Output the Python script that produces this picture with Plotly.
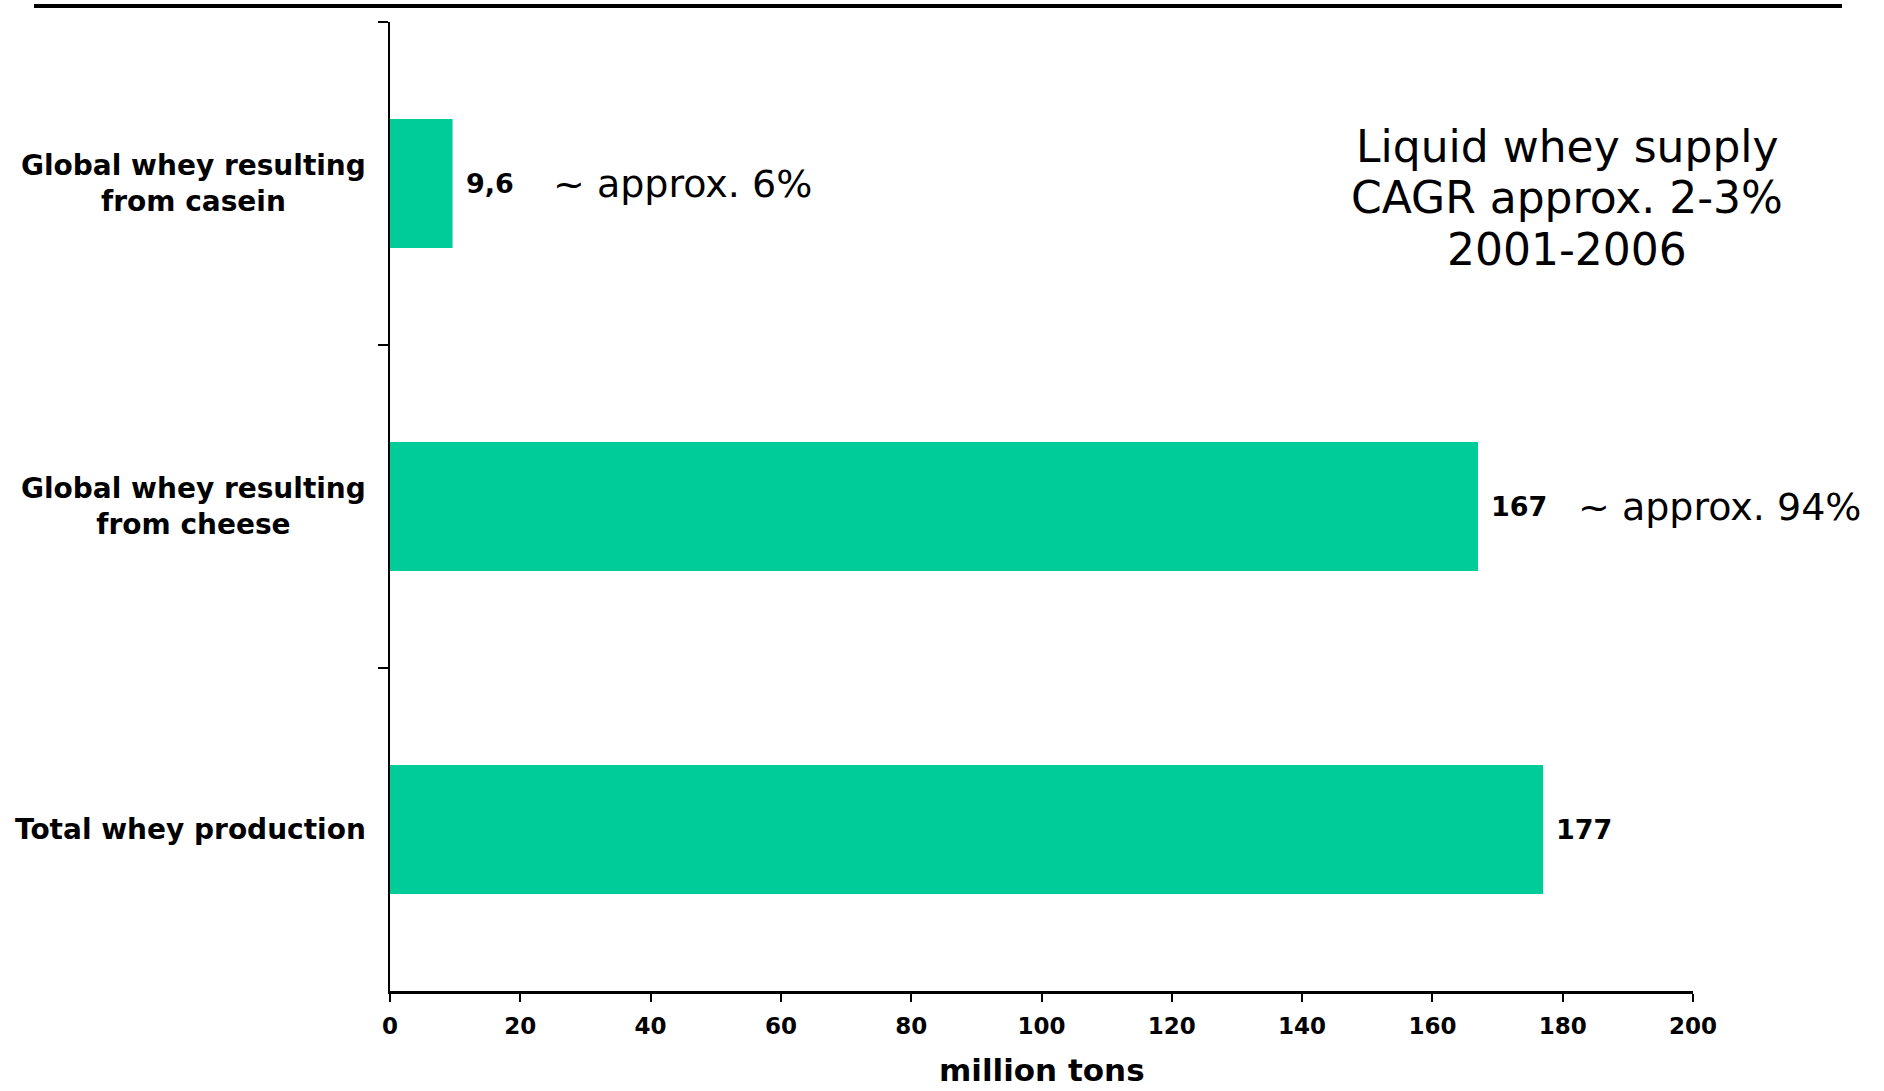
import plotly.graph_objects as go

# Whey supply by source, million tons (top to bottom)
categories = [
    "Global whey resulting<br>from casein",
    "Global whey resulting<br>from cheese",
    "Total whey production",
]
values = [9.6, 167, 177]
shares = ["~ approx. 6%", "~ approx. 94%", ""]
note_lines = ["Liquid whey supply", "CAGR approx. 2-3%", "2001-2006"]
x_ticks = [0, 20, 40, 60, 80, 100, 120, 140, 160, 180, 200]
x_title = "million tons"

BAR_COLOR = "#00CC99"
FONT = "DejaVu Sans"

# plot area in pixels, used to place free-floating text
PLOT_L, PLOT_R, PLOT_T, PLOT_B = 390, 1693, 22, 991


def fmt(v):
    # European decimal comma
    return f"{v:g}".replace(".", ",")


def px_x(px):
    return (px - PLOT_L) / (PLOT_R - PLOT_L)


def px_y(py):
    return (PLOT_B - py) / (PLOT_B - PLOT_T)


fig = go.Figure()
fig.add_trace(
    go.Bar(
        x=values,
        y=categories,
        orientation="h",
        marker=dict(color=BAR_COLOR, line=dict(width=0)),
        width=0.4,
        hoverinfo="skip",
    )
)

annotations = []
# category labels, centred lines, right-aligned to the axis
for c in categories:
    annotations.append(
        dict(
            x=0, xref="paper", y=c, yref="y",
            text=c, showarrow=False, xanchor="right", yanchor="middle",
            align="center", xshift=-22,
            font=dict(family=FONT, size=28, color="black", weight="bold"),
        )
    )
# value labels and share notes
for c, v, s in zip(categories, values, shares):
    annotations.append(
        dict(
            x=v, xref="x", y=c, yref="y",
            text=fmt(v), showarrow=False, xanchor="left", yanchor="middle",
            xshift=11,
            font=dict(family=FONT, size=27, color="black", weight="bold"),
        )
    )
    if s:
        annotations.append(
            dict(
                x=v, xref="x", y=c, yref="y",
                text=s, showarrow=False, xanchor="left", yanchor="middle",
                xshift=98,
                font=dict(family=FONT, size=38, color="black"),
            )
        )

# growth note, one annotation per line for tighter leading
for line, py in zip(note_lines, [146.5, 197.5, 249.5]):
    annotations.append(
        dict(
            x=px_x(1567), xref="paper", y=px_y(py), yref="paper",
            text=line, showarrow=False, align="center",
            xanchor="center", yanchor="middle",
            font=dict(family=FONT, size=44, color="black"),
        )
    )

# x-axis title
annotations.append(
    dict(
        x=0.5, xref="paper", y=px_y(1070), yref="paper",
        text=x_title, showarrow=False, xanchor="center", yanchor="middle",
        font=dict(family=FONT, size=31, color="black", weight="bold"),
    )
)

fig.update_layout(
    width=1884,
    height=1091,
    margin=dict(l=PLOT_L, r=1884 - PLOT_R, t=PLOT_T, b=1091 - PLOT_B),
    paper_bgcolor="white",
    plot_bgcolor="white",
    showlegend=False,
    annotations=annotations,
    shapes=[
        dict(
            type="line", xref="paper", yref="paper",
            x0=px_x(34), x1=px_x(1842),
            y0=px_y(6), y1=px_y(6),
            line=dict(color="black", width=4),
        )
    ],
)

fig.update_xaxes(
    range=[0, 200],
    tickvals=x_ticks,
    ticktext=[str(t) for t in x_ticks],
    ticks="outside",
    ticklen=8,
    tickwidth=2,
    tickcolor="black",
    ticklabelstandoff=4,
    showline=True,
    linecolor="black",
    linewidth=3,
    showgrid=False,
    zeroline=False,
    automargin=False,
    tickfont=dict(family=FONT, size=23, color="black", weight="bold"),
)

fig.update_yaxes(
    type="category",
    categoryorder="array",
    categoryarray=categories,
    autorange="reversed",
    tickson="boundaries",
    ticks="outside",
    ticklen=10,
    tickwidth=2,
    tickcolor="black",
    showticklabels=False,
    showline=True,
    linecolor="black",
    linewidth=2,
    showgrid=False,
    zeroline=False,
    automargin=False,
)

fig.write_html("out.html")
